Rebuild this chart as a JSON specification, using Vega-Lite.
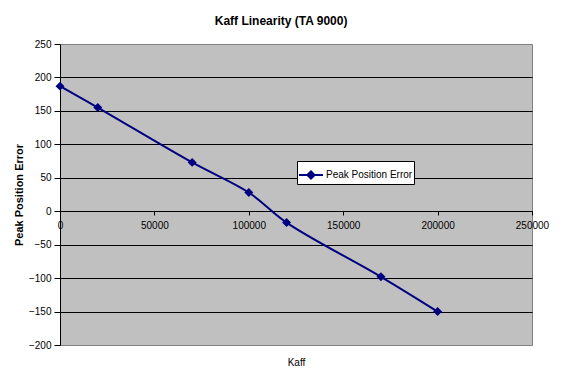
{
  "$schema": "https://vega.github.io/schema/vega-lite/v6.json",
  "width": 472,
  "height": 301,
  "autosize": {"type": "none"},
  "padding": {"left": 60, "top": 44, "right": 32, "bottom": 38},
  "background": "white",
  "title": {
    "text": "Kaff Linearity (TA 9000)",
    "font": "Liberation Sans",
    "fontSize": 12,
    "fontWeight": "bold",
    "color": "black",
    "frame": "bounds",
    "anchor": "middle",
    "offset": 11
  },
  "config": {
    "view": {"fill": "#C0C0C0", "stroke": "#808080", "strokeWidth": 1},
    "axis": {"labelFont": "Liberation Sans", "titleFont": "Liberation Sans", "labelColor": "black", "titleColor": "black"}
  },
  "data": {
    "values": [
      {"kaff": 0, "err": 187, "series": "Peak Position Error"},
      {"kaff": 20000, "err": 155, "series": "Peak Position Error"},
      {"kaff": 70000, "err": 73, "series": "Peak Position Error"},
      {"kaff": 100000, "err": 28, "series": "Peak Position Error"},
      {"kaff": 120000, "err": -17, "series": "Peak Position Error"},
      {"kaff": 170000, "err": -98, "series": "Peak Position Error"},
      {"kaff": 200000, "err": -150, "series": "Peak Position Error"}
    ]
  },
  "encoding": {
    "x": {
      "field": "kaff", "type": "quantitative",
      "scale": {"domain": [0, 250000], "nice": false, "zero": false},
      "axis": {
        "title": "Kaff", "titleFontSize": 10, "titleFontWeight": "normal", "titleY": 146,
        "values": [0, 50000, 100000, 150000, 200000, 250000],
        "format": "d", "labelFontSize": 10, "grid": false,
        "offset": -134, "domainColor": "black", "tickColor": "black",
        "tickSize": 4, "labelPadding": 5, "labelFlush": false, "labelOverlap": false
      }
    },
    "y": {
      "field": "err", "type": "quantitative",
      "scale": {"domain": [-200, 250], "nice": false, "zero": false},
      "axis": {
        "title": "Peak Position Error", "titleFontSize": 11, "titleFontWeight": "bold", "titlePadding": 4,
        "values": [-200, -150, -100, -50, 0, 50, 100, 150, 200, 250],
        "format": "d", "labelFontSize": 10, "grid": true,
        "gridColor": {"condition": {"test": "datum.value == 250 || datum.value == -200", "value": "#808080"}, "value": "black"},
        "gridOpacity": 1,
        "domainColor": "black", "tickColor": "black", "tickSize": 6, "labelPadding": 3, "labelFlush": false
      }
    },
    "color": {
      "field": "series", "type": "nominal",
      "scale": {"range": ["#000080"]},
      "legend": {
        "title": null, "orient": "none", "legendX": 237, "legendY": 117,
        "fillColor": "white", "strokeColor": "black", "padding": 1,
        "labelFont": "Liberation Sans", "labelFontSize": 10, "labelColor": "black",
        "symbolType": "M-1,0L1,0M-0.3,0L0,-0.3L0.3,0L0,0.3Z",
        "symbolSize": 576, "symbolStrokeWidth": 2, "symbolFillColor": "#000080", "symbolStrokeColor": "#000080",
        "symbolOpacity": 1, "labelOffset": 2
      }
    }
  },
  "layer": [
    {"mark": {"type": "line", "interpolate": "catmull-rom", "strokeWidth": 2}},
    {"mark": {"type": "point", "shape": "diamond", "filled": true, "size": 80, "opacity": 1}}
  ]
}
